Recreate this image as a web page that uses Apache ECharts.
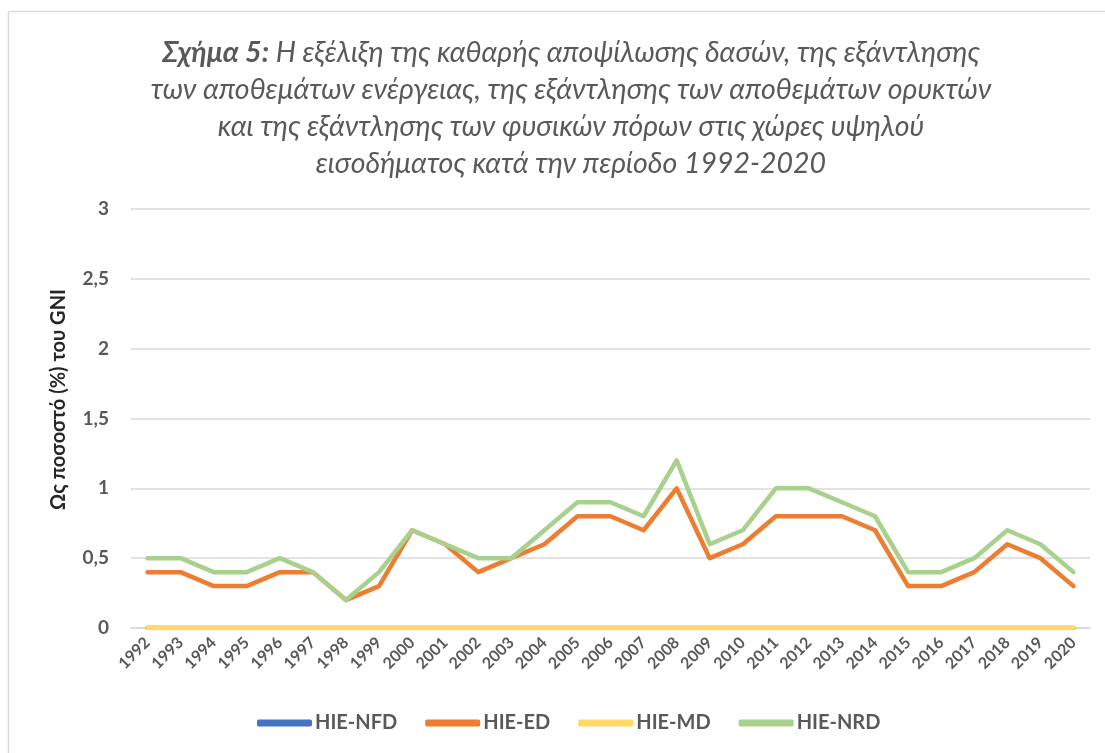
<!DOCTYPE html>
<html>
<head>
<meta charset="utf-8">
<script src="https://cdn.jsdelivr.net/npm/echarts@6/dist/echarts.min.js"></script>
<style>
  html, body { margin: 0; padding: 0; background: #fff; }
  #chart { width: 1105px; height: 753px; }
</style>
</head>
<body>
<div id="chart"></div>
<script>
// years on the x axis
const years = ['1992', '1993', '1994', '1995', '1996', '1997', '1998', '1999', '2000', '2001',
  '2002', '2003', '2004', '2005', '2006', '2007', '2008', '2009', '2010', '2011',
  '2012', '2013', '2014', '2015', '2016', '2017', '2018', '2019', '2020'];

// % of GNI
const nfd = [0, 0, 0, 0, 0, 0, 0, 0, 0, 0, 0, 0, 0, 0, 0, 0, 0, 0, 0, 0, 0, 0, 0, 0, 0, 0, 0, 0, 0];
const ed = [0.4, 0.4, 0.3, 0.3, 0.4, 0.4, 0.2, 0.3, 0.7, 0.6, 0.4, 0.5, 0.6, 0.8, 0.8, 0.7, 1.0, 0.5, 0.6, 0.8,
  0.8, 0.8, 0.7, 0.3, 0.3, 0.4, 0.6, 0.5, 0.3];
const md = [0, 0, 0, 0, 0, 0, 0, 0, 0, 0, 0, 0, 0, 0, 0, 0, 0, 0, 0, 0, 0, 0, 0, 0, 0, 0, 0, 0, 0];
const nrd = [0.5, 0.5, 0.4, 0.4, 0.5, 0.4, 0.2, 0.4, 0.7, 0.6, 0.5, 0.5, 0.7, 0.9, 0.9, 0.8, 1.2, 0.6, 0.7, 1.0,
  1.0, 0.9, 0.8, 0.4, 0.4, 0.5, 0.7, 0.6, 0.4];

const seriesNames = ['HIE-NFD', 'HIE-ED', 'HIE-MD', 'HIE-NRD'];
const colors = ['#4472C4', '#ED7D31', '#FFD966', '#A9D18E'];

const FONT = 'Lato, "Open Sans", sans-serif';
const GREY = '#595959';

const chart = echarts.init(document.getElementById('chart'));

function lineSeries(i, data) {
  return {
    name: seriesNames[i],
    type: 'line',
    data: data,
    symbol: 'none',
    lineStyle: { width: 4.5, color: colors[i], cap: 'round', join: 'round' },
    itemStyle: { color: colors[i] }
  };
}

chart.setOption({
  animation: false,
  textStyle: { fontFamily: FONT },
  title: {
    text: '{b|Σχήμα 5:} Η εξέλιξη της καθαρής αποψίλωσης δασών, της εξάντλησης\n' +
      'των αποθεμάτων ενέργειας, της εξάντλησης των αποθεμάτων ορυκτών\n' +
      'και της εξάντλησης των φυσικών πόρων στις χώρες υψηλού\n' +
      'εισοδήματος κατά την περίοδο 1992-2020',
    left: 566,
    top: 29,
    textAlign: 'center',
    textStyle: {
      fontFamily: FONT,
      fontSize: 28.5,
      fontStyle: 'italic',
      fontWeight: 'normal',
      color: GREY,
      lineHeight: 37,
      rich: {
        b: { fontFamily: FONT, fontSize: 28.5, fontStyle: 'italic', fontWeight: 'bold', color: GREY, lineHeight: 37 }
      }
    }
  },
  legend: {
    data: seriesNames,
    top: 708,
    left: 252,
    icon: 'roundRect',
    itemWidth: 55,
    itemHeight: 7,
    itemGap: 28,
    textStyle: { fontFamily: FONT, fontSize: 20, fontWeight: 'bold', color: GREY, padding: [0, 0, 0, -2] }
  },
  grid: {
    left: 131,
    right: 15,
    top: 209,
    bottom: 125,
    containLabel: false
  },
  xAxis: {
    type: 'category',
    data: years,
    boundaryGap: true,
    axisLine: { lineStyle: { color: '#D9D9D9', width: 1.5 } },
    axisTick: { show: false },
    axisLabel: {
      rotate: 45,
      interval: 0,
      margin: 12,
      fontFamily: FONT,
      fontSize: 16,
      fontWeight: 'bold',
      color: GREY
    }
  },
  yAxis: {
    type: 'value',
    min: 0,
    max: 3,
    interval: 0.5,
    name: 'Ως ποσοστό (%) του GNI',
    nameLocation: 'middle',
    nameGap: 62,
    nameTextStyle: { fontFamily: FONT, fontSize: 20, fontWeight: 'bold', color: '#262626', padding: [0, 0, 0, 38] },
    axisLine: { show: false },
    axisTick: { show: false },
    splitLine: { lineStyle: { color: '#D9D9D9', width: 1.5 } },
    axisLabel: {
      margin: 22,
      fontFamily: FONT,
      fontSize: 19,
      fontWeight: 'bold',
      color: GREY,
      formatter: function (v) { return String(v).replace('.', ','); }
    }
  },
  series: [
    lineSeries(0, nfd),
    lineSeries(1, ed),
    lineSeries(2, md),
    lineSeries(3, nrd)
  ],
  graphic: [
    { type: 'line', shape: { x1: 8.5, y1: 11.5, x2: 1105, y2: 11.5 }, style: { stroke: '#D9D9D9', lineWidth: 1.5 } },
    { type: 'line', shape: { x1: 8.5, y1: 11.5, x2: 8.5, y2: 753 }, style: { stroke: '#D9D9D9', lineWidth: 1.5 } }
  ]
});
</script>
</body>
</html>
